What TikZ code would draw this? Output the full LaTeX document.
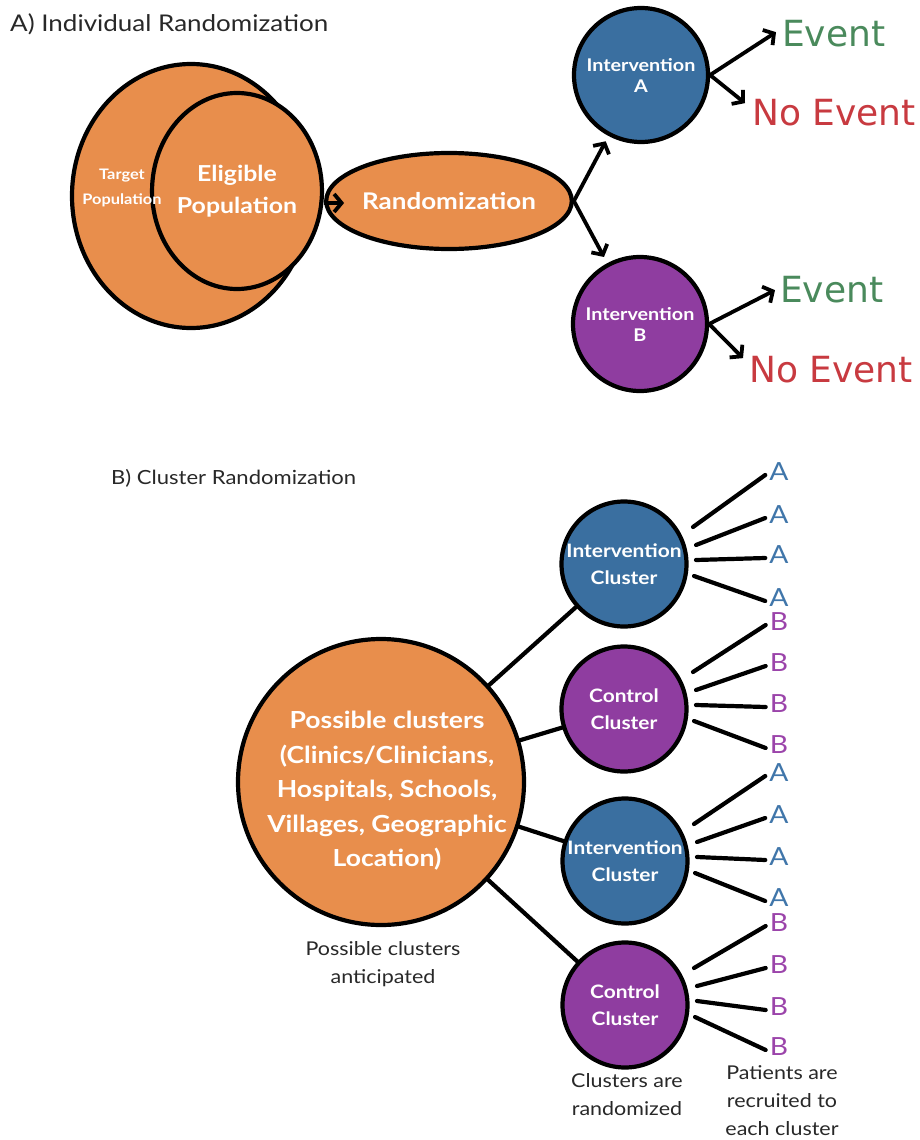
\documentclass[tikz,border=0pt]{standalone}
\usepackage{fontspec}
\setmainfont{Lato}[FakeStretch=1.13]
\newfontfamily\evfont{DejaVu Sans}
\usetikzlibrary{arrows.meta,calc,shapes.geometric}

\definecolor{popOrange}{RGB}{232,142,76}
\definecolor{armBlue}{RGB}{58,111,160}
\definecolor{armPurple}{RGB}{143,61,160}
\definecolor{evGreen}{RGB}{74,138,92}
\definecolor{evRed}{RGB}{200,58,64}
\definecolor{ltrBlue}{RGB}{64,118,170}
\definecolor{ltrPurple}{RGB}{155,68,170}
\definecolor{capGray}{RGB}{40,40,40}

\begin{document}
\begin{tikzpicture}[x=1pt,y=-1pt,
  outline/.style={draw=black, line width=4.2pt, inner sep=0pt},
  oval/.style={outline, ellipse, fill=popOrange},
  disc/.style={outline, circle, minimum size=#1},
  wlabel/.style 2 args={text=white, align=center, font=\bfseries\fontsize{#1}{#2}\selectfont},
  caption/.style={text=capGray, align=center, font=\fontsize{19}{28}\selectfont},
  title/.style={text=capGray, anchor=base west, inner sep=0pt, font=\fontsize{#1}{28}\selectfont},
  outcome/.style={anchor=base west, inner sep=0pt, font=\evfont\fontsize{36}{40}\selectfont},
  letter/.style={inner sep=0pt, font=\fontsize{25}{28}\selectfont},
  link/.style={line width=4.2pt, line cap=round},
  arr/.style={line width=3.8pt, -{Straight Barb[length=7.5pt,width=18pt]}},
]
\fill[white] (0,0) rectangle (919,1140);
\useasboundingbox (0,0) rectangle (919,1140);

% ---------- A) Individual randomization ----------
\node[title=23] (titleA) at (10,32) {A) Individual Randomization};

\node[oval, minimum width=238, minimum height=264] (target) at (191,196) {};
\node[oval, minimum width=138, minimum height=196, wlabel={22}{32}] (elig) at (237,191) {Eligible\\Population};
\node[wlabel={14.5}{25}] (targetTxt) at (122,188) {Target\\Population};

\node[oval, minimum width=232, minimum height=96, wlabel={23}{26}] (rand) at (449,201) {Randomization};
\coordinate (randIn) at ($(rand.west)+(20,2)$);
\draw[arr] (rand.west -| elig.east) ++(0,2) -- (randIn);

\node[disc=134, fill=armBlue, wlabel={17.5}{21}] (intA) at (641,75) {Intervention\\A};
\node[disc=134, fill=armPurple, wlabel={17.5}{21}] (intB) at (640,324) {Intervention\\B};

\draw[arr, shorten >=6pt] (rand.east) -- (intA);
\draw[arr, shorten >=7pt] (rand.east) -- (intB);

\node[outcome, text=evGreen] (evA) at (782,47) {Event};
\node[outcome, text=evRed] (noA) at (752,125) {No Event};
\node[outcome, text=evGreen] (evB) at (780,302) {Event};
\node[outcome, text=evRed] (noB) at (749,382) {No Event};

\draw[arr] (intA.east) -- ($(evA.west)+(-6,-2)$);
\draw[arr] (intA.east) -- ($(noA.west)+(-7,-9)$);
\draw[arr] (intB.east) -- ($(evB.west)+(-5,1)$);
\draw[arr] (intB.east) -- ($(noB.west)+(-6,-11)$);

% ---------- B) Cluster randomization ----------
\node[title=19.5] (titleB) at (111,484) {B) Cluster Randomization};

\node[disc=286, fill=popOrange] (big) at (381,782) {};
\node[text=white, align=center, font=\bfseries\fontsize{23.5}{34.5}\selectfont] (bigTxt) at (387,791)
  {Possible clusters\\(Clinics/Clinicians,\\Hospitals, Schools,\\Villages, Geographic\\Location)};
\node[caption] (bigCap) at (383,964) {Possible clusters\\anticipated};

\node[disc=125, fill=armBlue, wlabel={18.5}{27}] (c1) at (624,564) {Intervention\\Cluster};
\node[disc=125, fill=armPurple, wlabel={18.5}{27}] (c2) at (624,709) {Control\\Cluster};
\node[disc=125, fill=armBlue, wlabel={18.5}{27}] (c3) at (625,861) {Intervention\\Cluster};
\node[disc=125, fill=armPurple, wlabel={18.5}{27}] (c4) at (625,1005) {Control\\Cluster};

\foreach \c in {c1,c2,c3,c4} \draw[link] (big) -- (\c);

% patients recruited to each cluster
\foreach \c/\L/\col/\ya/\yb/\yc/\yd in {
    c1/A/ltrBlue/472/515/555/598,
    c2/B/ltrPurple/622/663/704/745,
    c3/A/ltrBlue/773/815/857/898,
    c4/B/ltrPurple/923/965/1007/1047} {
  \foreach \y/\sx/\sy [count=\i] in {\ya/69/-37, \yb/72/-19, \yc/72/-4, \yd/70/12} {
    \node[letter, text=\col] (\c p\i) at (779,\y) {\L};
    \draw[link] ($(\c)+(\sx,\sy)$) -- ($(\c p\i.west)+(-4,3)$);
  }
}

\node[caption] (capRand) at (627,1095) {Clusters are\\randomized};
\node[caption] (capRecr) at (782,1101) {Patients are\\recruited to\\each cluster};
\end{tikzpicture}
\end{document}
